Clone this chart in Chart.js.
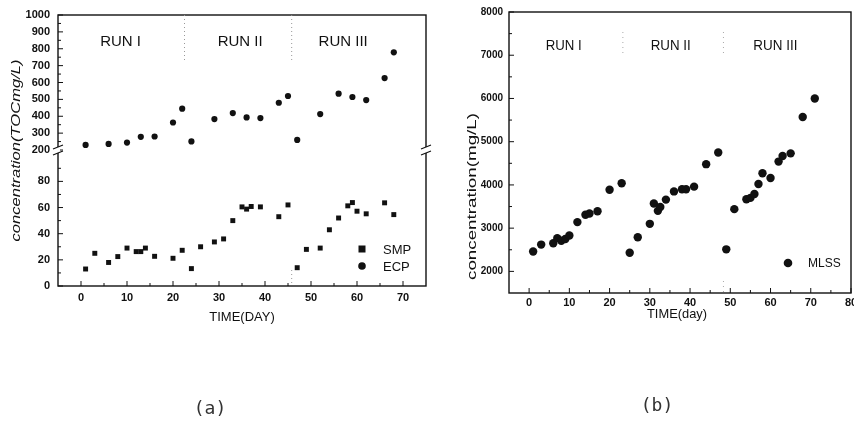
<!DOCTYPE html>
<html><head><meta charset="utf-8">
<script src="https://cdn.jsdelivr.net/npm/chart.js@4.4.0/dist/chart.umd.min.js"></script>
<style>
html,body{margin:0;padding:0;background:#fff;overflow:hidden;width:854px;height:421px;}
#ca{position:absolute;left:0;top:0;}
#cb{position:absolute;left:440px;top:0;}
.cap{position:absolute;font-family:"DejaVu Sans Mono",monospace;font-size:18px;color:#333;transform:translate(-50%,-50%);white-space:nowrap;}
</style></head><body>
<canvas id="ca" width="440" height="421"></canvas>
<canvas id="cb" width="430" height="421"></canvas>
<div class="cap" style="left:210px;top:407px">(a)</div>
<div class="cap" style="left:657px;top:404px">(b)</div>
<script>
// ---------- data : panel (a) ----------
const smpDays   = [1,3,6,8,10,12,13,14,16,20,22,24,26,29,31,33,35,36,37,39,43,45,47,49,52,54,56,58,59,60,62,66,68];
const smpValues = [13,25,18,22.5,29,26.3,26.3,29,22.7,21.2,27.3,13.3,30,33.7,36,50,60.5,58.8,60.8,60.5,53,62,14,28,29,43,52,61.3,63.8,57.2,55.2,63.6,54.6];
const ecpDays   = [1,6,10,13,16,20,22,24,29,33,36,39,43,45,47,52,56,59,62,66,68];
const ecpValues = [230,236,244,278,280,363,445,251,383,419,393,389,480,520,260,413,534,514,496,626,779];
const xTicksA   = [0,10,20,30,40,50,60,70];
const yTicksLowA  = [0,20,40,60,80];
const yTicksHighA = [200,300,400,500,600,700,800,900,1000];
const runLabels = ['RUN I','RUN II','RUN III'];
const runCentersA = [8.6,34.6,57];
const runSepA = [22.5,45.8];
// ---------- data : panel (b) ----------
const mlssDays   = [1,3,6,7,8,9,10,12,14,15,17,20,23,25,27,30,31,32,32.6,34,36,38,39,41,44,47,49,51,54,55,56,57,58,60,62,63,65,68,71];
const mlssValues = [2460,2620,2650,2770,2710,2750,2830,3140,3310,3340,3390,3890,4040,2430,2790,3100,3570,3400,3490,3660,3850,3900,3900,3960,4480,4750,2510,3440,3670,3700,3790,4020,4270,4160,4540,4670,4730,5570,6000];
const xTicksB = [0,10,20,30,40,50,60,70,80];
const yTicksB = [2000,3000,4000,5000,6000,7000,8000];
const runCentersB = [8.6,35.2,61.2];
const runSepB = [23.3,48.3];

function pts(xs, ys){ return xs.map((x,i)=>({x:x, y:ys[i]})); }
function setTicks(list){ return function(scale){ scale.ticks = list.map(v=>({value:v})); }; }
function minorsOf(list, step){ const out=[]; for(let i=0;i<list.length-1;i++) out.push((list[i]+list[i+1])/2); out.push(list[list.length-1]+step/2); out.unshift(list[0]-step/2); return out; }

function stretchText(ctx, text, cx, cy, width, rot){
  ctx.save();
  ctx.translate(cx, cy);
  if (rot) ctx.rotate(rot);
  const w = ctx.measureText(text).width;
  ctx.scale(width / w, 1);
  ctx.textAlign = 'center'; ctx.textBaseline = 'middle';
  ctx.fillText(text, 0, 0);
  ctx.restore();
}

Chart.defaults.font.family = '"Liberation Sans", Arial, sans-serif';
Chart.defaults.color = '#111';

// ---------- panel (a) decorations ----------
const decoA = {
  id: 'decoA',
  afterDraw(chart){
    const {ctx, chartArea: ca, scales} = chart;
    const xs = scales.x, yl = scales.yLow, yh = scales.yHigh;
    ctx.save();
    ctx.strokeStyle = '#111'; ctx.lineWidth = 1.4;
    ctx.strokeRect(ca.left, ca.top, ca.right - ca.left, ca.bottom - ca.top);
    ctx.lineWidth = 1;
    ctx.beginPath();
    xTicksA.forEach(v=>{ const p = xs.getPixelForValue(v); ctx.moveTo(p, ca.bottom); ctx.lineTo(p, ca.bottom-5); });
    minorsOf(xTicksA,10).forEach(v=>{ if(v>xs.min && v<xs.max){ const p = xs.getPixelForValue(v); ctx.moveTo(p, ca.bottom); ctx.lineTo(p, ca.bottom-3);} });
    yTicksLowA.forEach(v=>{ const p = yl.getPixelForValue(v); ctx.moveTo(ca.left, p); ctx.lineTo(ca.left+5, p); });
    minorsOf(yTicksLowA,20).forEach(v=>{ if(v>yl.min && v<yl.max){ const p = yl.getPixelForValue(v); ctx.moveTo(ca.left, p); ctx.lineTo(ca.left+3, p);} });
    yTicksHighA.forEach(v=>{ const p = yh.getPixelForValue(v); ctx.moveTo(ca.left, p); ctx.lineTo(ca.left+5, p); });
    minorsOf(yTicksHighA,100).forEach(v=>{ if(v>yh.min && v<yh.max){ const p = yh.getPixelForValue(v); ctx.moveTo(ca.left, p); ctx.lineTo(ca.left+3, p);} });
    ctx.stroke();
    const yb = yl.top;
    [ca.left, ca.right].forEach(xb=>{
      ctx.fillStyle = '#fff';
      ctx.fillRect(xb-2, yb-3, 4, 6);
      ctx.beginPath();
      ctx.lineWidth = 1.2;
      ctx.moveTo(xb-5, yb-1); ctx.lineTo(xb+5, yb-5);
      ctx.moveTo(xb-5, yb+5); ctx.lineTo(xb+5, yb+1);
      ctx.stroke();
    });
    ctx.strokeStyle = '#999'; ctx.lineWidth = 1; ctx.setLineDash([1,3]);
    ctx.beginPath();
    runSepA.forEach(v=>{ const p = xs.getPixelForValue(v); ctx.moveTo(p, ca.top); ctx.lineTo(p, ca.top+45); });
    const p2 = xs.getPixelForValue(runSepA[1]); ctx.moveTo(p2, ca.bottom-16); ctx.lineTo(p2, ca.bottom);
    ctx.stroke();
    ctx.setLineDash([]);
    ctx.fillStyle = '#111';
    ctx.font = '15px "Liberation Sans", Arial, sans-serif';
    ctx.textAlign = 'center'; ctx.textBaseline = 'middle';
    runLabels.forEach((t,i)=>{ ctx.fillText(t, xs.getPixelForValue(runCentersA[i]), ca.top + 27); });
    ctx.font = '13px "Liberation Sans", Arial, sans-serif';
    ctx.fillText('TIME(DAY)', (ca.left+ca.right)/2, ca.bottom + 31);
    ctx.font = 'italic 13px "Liberation Sans", Arial, sans-serif';
    stretchText(ctx, 'concentration(TOCmg/L)', 16, (ca.top+ca.bottom)/2, 182, -Math.PI/2);
    const lx = ca.right - 64;
    const ds = chart.data.datasets;
    ctx.font = '13px "Liberation Sans", Arial, sans-serif';
    ctx.textAlign = 'left';
    [ca.bottom-37, ca.bottom-20].forEach((ly,i)=>{
      ctx.fillStyle = '#111';
      if (ds[i].pointStyle === 'rect') ctx.fillRect(lx-3.5, ly-3.5, 7, 7);
      else { ctx.beginPath(); ctx.arc(lx, ly, 3.8, 0, Math.PI*2); ctx.fill(); }
      ctx.fillText(ds[i].label, ca.right - 43, ly+1);
    });
    ctx.restore();
  }
};

new Chart(document.getElementById('ca'), {
  type: 'scatter',
  data: { datasets: [
    { label: 'SMP', data: pts(smpDays, smpValues), yAxisID: 'yLow', pointStyle: 'rect', pointRadius: 3.5, backgroundColor: '#111', borderColor: '#111', borderWidth: 0 },
    { label: 'ECP', data: pts(ecpDays, ecpValues), yAxisID: 'yHigh', pointStyle: 'circle', pointRadius: 3.1, backgroundColor: '#111', borderColor: '#111', borderWidth: 0 }
  ]},
  options: {
    responsive: false, animation: false, devicePixelRatio: 1, events: [],
    layout: { padding: { left: 0, top: 15, right: 14, bottom: 0 } },
    plugins: { legend: { display: false }, tooltip: { enabled: false } },
    scales: {
      x: { type: 'linear', min: -5, max: 75, afterBuildTicks: setTicks(xTicksA),
           afterFit: s => { s.height = 135; },
           grid: { display: false, drawTicks: false }, border: { display: false },
           ticks: { padding: 5, autoSkip: false, font: { size: 11, weight: 'bold' }, callback: v => String(v), maxRotation: 0 } },
      yLow: { type: 'linear', position: 'left', stack: 'a', stackWeight: 136, min: 0, max: 104,
           afterBuildTicks: setTicks(yTicksLowA), afterFit: s => { s.width = 58; },
           grid: { display: false, drawTicks: false }, border: { display: false },
           ticks: { padding: 8, autoSkip: false, font: { size: 11, weight: 'bold' }, callback: v => String(v) } },
      yHigh: { type: 'linear', position: 'left', stack: 'a', stackWeight: 135, min: 200, max: 1000,
           afterBuildTicks: setTicks(yTicksHighA), afterFit: s => { s.width = 58; },
           grid: { display: false, drawTicks: false }, border: { display: false },
           ticks: { padding: 8, autoSkip: false, font: { size: 11, weight: 'bold' }, callback: v => String(v) } }
    }
  },
  plugins: [decoA]
});

// ---------- panel (b) decorations ----------
const decoB = {
  id: 'decoB',
  afterDraw(chart){
    const {ctx, chartArea: ca, scales} = chart;
    const xs = scales.x, ys = scales.y;
    ctx.save();
    ctx.strokeStyle = '#111'; ctx.lineWidth = 1.4;
    ctx.strokeRect(ca.left, ca.top, ca.right - ca.left, ca.bottom - ca.top);
    ctx.lineWidth = 1;
    ctx.beginPath();
    xTicksB.forEach(v=>{ const p = xs.getPixelForValue(v); ctx.moveTo(p, ca.bottom); ctx.lineTo(p, ca.bottom-5); });
    minorsOf(xTicksB,10).forEach(v=>{ if(v>xs.min && v<xs.max){ const p = xs.getPixelForValue(v); ctx.moveTo(p, ca.bottom); ctx.lineTo(p, ca.bottom-3);} });
    yTicksB.forEach(v=>{ const p = ys.getPixelForValue(v); ctx.moveTo(ca.left, p); ctx.lineTo(ca.left+5, p); });
    minorsOf(yTicksB,1000).forEach(v=>{ if(v>ys.min && v<ys.max){ const p = ys.getPixelForValue(v); ctx.moveTo(ca.left, p); ctx.lineTo(ca.left+3, p);} });
    ctx.stroke();
    ctx.strokeStyle = '#aaa'; ctx.setLineDash([1,4]);
    ctx.beginPath();
    runSepB.forEach(v=>{ const p = xs.getPixelForValue(v); ctx.moveTo(p, ca.top+20); ctx.lineTo(p, ca.top+45); });
    const q = xs.getPixelForValue(runSepB[1]); ctx.moveTo(q, ca.bottom-12); ctx.lineTo(q, ca.bottom);
    ctx.stroke();
    ctx.setLineDash([]);
    ctx.fillStyle = '#111';
    ctx.font = '14px "Liberation Sans", Arial, sans-serif';
    ctx.textAlign = 'center'; ctx.textBaseline = 'middle';
    runLabels.forEach((t,i)=>{ stretchText(ctx, t, xs.getPixelForValue(runCentersB[i]), ca.top + 34, [36,40,44][i], 0); });
    ctx.font = '13px "Liberation Sans", Arial, sans-serif';
    stretchText(ctx, 'TIME(day)', (ca.left+ca.right)/2 - 3, ca.bottom + 21, 60, 0);
    stretchText(ctx, 'concentration(mg/L)', 32, (ca.top+ca.bottom)/2 + 44, 167, -Math.PI/2);
    const ds = chart.data.datasets[0];
    ctx.beginPath(); ctx.arc(ca.right - 63, ca.bottom - 30, 4.3, 0, Math.PI*2); ctx.fill();
    ctx.textAlign = 'left';
    ctx.font = '12px "Liberation Sans", Arial, sans-serif';
    ctx.fillText(ds.label, ca.right - 43, ca.bottom - 29);
    ctx.restore();
  }
};

new Chart(document.getElementById('cb'), {
  type: 'scatter',
  data: { datasets: [
    { label: 'MLSS', data: pts(mlssDays, mlssValues), pointStyle: 'circle', pointRadius: 4.2, backgroundColor: '#111', borderColor: '#111', borderWidth: 0 }
  ]},
  options: {
    responsive: false, animation: false, devicePixelRatio: 1, events: [],
    layout: { padding: { left: 0, top: 11, right: 19, bottom: 0 } },
    plugins: { legend: { display: false }, tooltip: { enabled: false } },
    scales: {
      x: { type: 'linear', min: -5, max: 80, afterBuildTicks: setTicks(xTicksB),
           afterFit: s => { s.height = 128; },
           grid: { display: false, drawTicks: false }, border: { display: false },
           ticks: { padding: 3, autoSkip: false, font: { size: 11, weight: 'bold' }, callback: v => String(v), maxRotation: 0 } },
      y: { type: 'linear', position: 'left', min: 1500, max: 8000, afterBuildTicks: setTicks(yTicksB),
           afterFit: s => { s.width = 69; },
           grid: { display: false, drawTicks: false }, border: { display: false },
           ticks: { padding: 6, autoSkip: false, font: { size: 10, weight: 'bold' }, callback: v => String(v) } }
    }
  },
  plugins: [decoB]
});
</script>
</body></html>
